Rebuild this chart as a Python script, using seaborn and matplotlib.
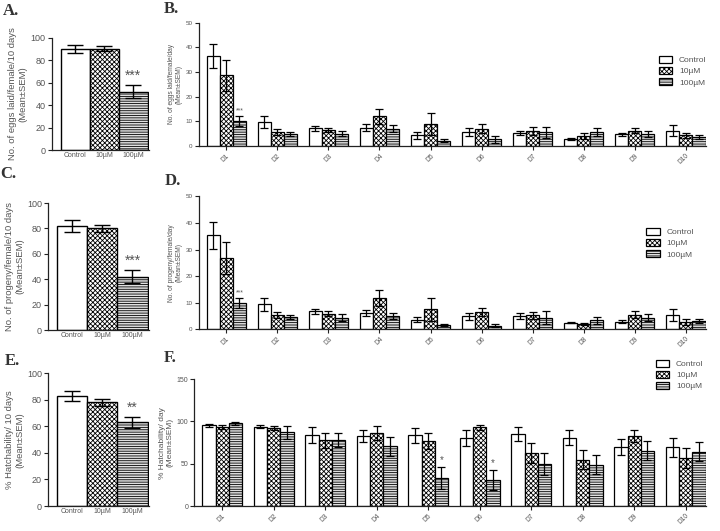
import numpy as np
import pandas as pd
import matplotlib
matplotlib.use("Agg")
import matplotlib.pyplot as plt
import seaborn as sns

sns.set_style("ticks")
plt.rcParams['font.family'] = ['Liberation Sans', 'DejaVu Sans']
plt.rcParams['hatch.linewidth'] = 0.6

groups = ['Control', '10µM', '100µM']
days = ['D1', 'D2', 'D3', 'D4', 'D5', 'D6', 'D7', 'D8', 'D9', 'D10']

# totals over 10 days
eggs_total = [90, 90.5, 52]
eggs_total_sem = [3.5, 2, 6]
progeny_total = [82, 80, 42]
progeny_total_sem = [5, 3, 5]
hatch_total = [83, 78, 63]
hatch_total_sem = [4, 3, 4]

# per-day values: rows = groups, cols = days
eggs_day = [
    [36.5, 9.7, 7.3, 7.5, 4.3, 5.7, 5.4, 2.8, 4.7, 6.3],
    [28.8, 5.7, 6.5, 12.1, 8.8, 7.0, 6.2, 4.0, 6.3, 4.4],
    [10.2, 4.9, 5.0, 7.0, 2.2, 2.7, 5.5, 5.7, 4.9, 3.8],
]
eggs_day_sem = [
    [5.0, 2.5, 1.0, 1.5, 1.3, 1.5, 0.9, 0.3, 0.7, 2.2],
    [6.3, 1.3, 1.0, 3.0, 4.5, 1.8, 1.6, 1.3, 1.2, 1.0],
    [2.0, 0.8, 0.9, 1.5, 0.5, 1.3, 2.3, 1.5, 1.3, 0.8],
]
progeny_day = [
    [35.3, 9.4, 6.7, 6.2, 3.6, 4.8, 5.0, 2.5, 2.9, 5.3],
    [26.9, 5.4, 5.8, 11.6, 7.5, 6.4, 5.2, 2.1, 5.5, 2.8],
    [9.9, 4.6, 4.4, 5.0, 1.6, 1.4, 4.4, 3.4, 4.3, 3.1],
]
progeny_day_sem = [
    [5.2, 2.5, 1.0, 1.2, 1.0, 1.4, 1.0, 0.3, 0.7, 2.3],
    [6.0, 1.0, 1.0, 3.0, 4.3, 1.5, 1.4, 0.4, 1.3, 1.1],
    [2.0, 0.8, 1.2, 1.0, 0.4, 0.7, 2.3, 1.3, 1.3, 0.8],
]
hatch_day = [
    [95.3, 93.7, 84.0, 82.7, 83.5, 80.3, 85.4, 81.0, 69.7, 69.3],
    [93.0, 92.5, 77.6, 86.2, 76.8, 93.0, 63.0, 55.0, 83.0, 56.7],
    [97.6, 87.0, 78.3, 70.5, 33.5, 31.0, 50.0, 49.0, 65.4, 64.2],
]
hatch_day_sem = [
    [1.5, 2.0, 9.0, 7.0, 9.0, 9.0, 8.5, 8.5, 9.5, 11.0],
    [2.5, 2.5, 9.0, 8.0, 9.0, 3.0, 12.0, 11.5, 7.0, 11.5],
    [1.5, 8.0, 8.0, 11.0, 13.0, 12.0, 13.0, 11.0, 11.0, 11.0],
]

face = ['white', 'white', '#e0e0e0']
hatches = ['', 'xxxxxxx', '-------']
txt = '#555555'


def style_axis(ax, fs):
    sns.despine(ax=ax)
    for s in ['left', 'bottom']:
        ax.spines[s].set_linewidth(0.9)
        ax.spines[s].set_color('#222222')
    ax.tick_params(direction='out', length=3, width=0.8, labelsize=fs,
                   colors='#222222', labelcolor=txt, pad=1.5)


def letter(x, y, s):
    fig.text(x, y, s, fontsize=12, fontweight='bold',
             family='Liberation Serif', color='#333333')


def total_panel(rect, vals, sems, ylabel, stars):
    ax = fig.add_axes(rect)
    df = pd.DataFrame({'group': groups, 'mean': vals})
    sns.barplot(data=df, x='group', y='mean', hue='group', palette=face,
                width=1.0, edgecolor='black', linewidth=1.0,
                errorbar=None, legend=False, ax=ax)
    for p, h in zip(ax.patches, hatches):
        p.set_hatch(h)
    xs = [p.get_x() + p.get_width() / 2 for p in ax.patches]
    ax.errorbar(xs, vals, yerr=sems, fmt='none', ecolor='black',
                elinewidth=1.0, capsize=6, capthick=1.0)
    ax.set_ylim(0, 100)
    ax.set_yticks([0, 20, 40, 60, 80, 100])
    ax.set_xlim(-0.8, 2.55)
    ax.set_xlabel('')
    ax.set_ylabel(ylabel, fontsize=6.8, color=txt, labelpad=2)
    style_axis(ax, 6.5)
    ax.tick_params(axis='x', labelsize=5, length=0)
    ax.text(xs[2], vals[2] + sems[2] + 2, stars, ha='center', va='bottom',
            fontsize=10, color=txt)
    return ax


def day_panel(rect, vals, sems, ylabel, ymax, yticks, stars, leg_anchor,
              ylfs, tfs):
    ax = fig.add_axes(rect)
    rows = []
    for g, gv in zip(groups, vals):
        for d, v in zip(days, gv):
            rows.append({'day': d, 'group': g, 'mean': v})
    df = pd.DataFrame(rows)
    sns.barplot(data=df, x='day', y='mean', hue='group', palette=face,
                width=0.77, edgecolor='black', linewidth=0.9,
                errorbar=None, ax=ax)
    for cont, h, gv, gs in zip(ax.containers, hatches, vals, sems):
        xs = []
        for p in cont:
            p.set_hatch(h)
            xs.append(p.get_x() + p.get_width() / 2)
        ax.errorbar(xs, gv, yerr=gs, fmt='none', ecolor='black',
                    elinewidth=0.9, capsize=3, capthick=0.9)
    for gi, di, s, fsz in stars:
        p = ax.containers[gi][di]
        ax.text(p.get_x() + p.get_width() / 2,
                vals[gi][di] + sems[gi][di] + ymax * 0.01, s,
                ha='center', va='bottom', fontsize=fsz, color=txt)
    ax.legend(ax.containers, groups, loc='upper left',
              bbox_to_anchor=leg_anchor, frameon=False, fontsize=6,
              labelcolor=txt, handlelength=1.6, handleheight=0.9,
              borderaxespad=0, labelspacing=0.35)
    ax.set_ylim(0, ymax)
    ax.set_yticks(yticks)
    ax.set_xlim(-0.54, 9.4)
    ax.set_xlabel('')
    ax.set_ylabel(ylabel, fontsize=ylfs, color=txt, labelpad=2)
    style_axis(ax, tfs)
    ax.tick_params(axis='x', labelsize=4.8)
    for lab in ax.get_xticklabels():
        lab.set_rotation(45)
        lab.set_ha('right')
        lab.set_rotation_mode('anchor')
    return ax


fig = plt.figure(figsize=(7.2, 5.31), dpi=100)

total_panel([0.072, 0.7175, 0.135, 0.211], eggs_total, eggs_total_sem,
            'No. of eggs laid/female/10 days\n(Mean±SEM)', '***')
total_panel([0.067, 0.3785, 0.14, 0.239], progeny_total, progeny_total_sem,
            'No. of progeny/female/10 days\n(Mean±SEM)', '***')
total_panel([0.067, 0.047, 0.14, 0.25], hatch_total, hatch_total_sem,
            '% Hatchability/ 10 days\n(Mean±SEM)', '**')

day_panel([0.276, 0.725, 0.705, 0.232], eggs_day, eggs_day_sem,
          'No. of eggs laid/female/day\n(Mean±SEM)', 50, [0, 10, 20, 30, 40, 50],
          [(2, 0, '***', 5)], (0.9, 0.76), 4.8, 4.5)
day_panel([0.276, 0.38, 0.705, 0.25], progeny_day, progeny_day_sem,
          'No. of progeny/female/day\n(Mean±SEM)', 50, [0, 10, 20, 30, 40, 50],
          [(2, 0, '***', 5)], (0.875, 0.79), 4.8, 4.5)
day_panel([0.27, 0.047, 0.711, 0.239], hatch_day, hatch_day_sem,
          '% Hatchability/ day\n(Mean±SEM)', 150, [0, 50, 100, 150],
          [(2, 4, '*', 7), (2, 5, '*', 7)], (0.895, 1.18), 6, 5)

letter(0.004, 0.972, 'A.')
letter(0.228, 0.975, 'B.')
letter(0.0, 0.665, 'C.')
letter(0.228, 0.652, 'D.')
letter(0.007, 0.313, 'E.')
letter(0.228, 0.318, 'F.')

fig.savefig('out.png', dpi=100)
